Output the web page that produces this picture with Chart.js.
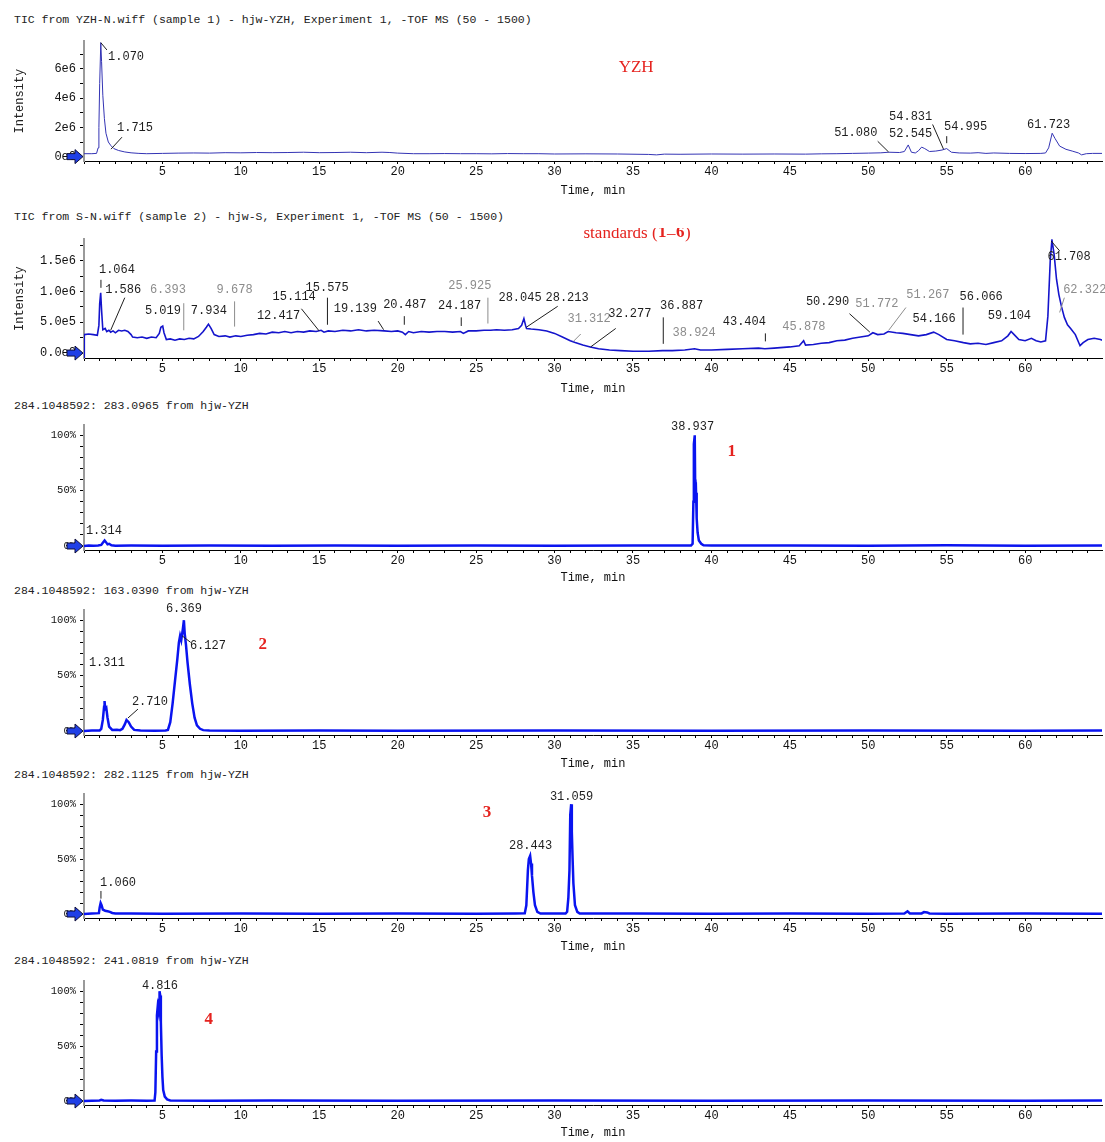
<!DOCTYPE html>
<html>
<head>
<meta charset="utf-8">
<script src="https://cdn.jsdelivr.net/npm/chart.js@4.4.1/dist/chart.umd.min.js"></script>
<style>
  body { margin: 0; background: #fff; width: 1105px; height: 1142px; position: relative; overflow: hidden; }
  .ttl { position: absolute; left: 14px; font: 11.5px "Liberation Mono", monospace; line-height: 14px; color: #222; white-space: pre; }
  canvas { position: absolute; left: 0; }
</style>
</head>
<body>
<div class="ttl" style="top:13px">TIC from YZH-N.wiff (sample 1) - hjw-YZH, Experiment 1, -TOF MS (50 - 1500)</div>
<div class="ttl" style="top:210px">TIC from S-N.wiff (sample 2) - hjw-S, Experiment 1, -TOF MS (50 - 1500)</div>
<div class="ttl" style="top:399px">284.1048592: 283.0965 from hjw-YZH</div>
<div class="ttl" style="top:584px">284.1048592: 163.0390 from hjw-YZH</div>
<div class="ttl" style="top:768px">284.1048592: 282.1125 from hjw-YZH</div>
<div class="ttl" style="top:954px">284.1048592: 241.0819 from hjw-YZH</div>

<canvas id="c1" width="1105" height="170" style="top:30px"></canvas>
<canvas id="c2" width="1105" height="170" style="top:228px"></canvas>
<canvas id="c3" width="1105" height="172" style="top:415px"></canvas>
<canvas id="c4" width="1105" height="173" style="top:600px"></canvas>
<canvas id="c5" width="1105" height="172" style="top:784px"></canvas>
<canvas id="c6" width="1105" height="171" style="top:971px"></canvas>

<script>
// time (min), intensity (x1e6)
const yzhTic = [[0,0.2],[0.5,0.2],[0.8,0.22],[0.9,0.6],[0.95,2.0],[1.0,5.0],[1.07,7.8],[1.12,6.5],[1.2,4.2],[1.3,2.6],
  [1.4,1.6],[1.55,1.0],[1.715,0.75],[1.9,0.55],[2.2,0.42],[2.6,0.32],[3.0,0.26],[3.5,0.22],[4,0.2],[5,0.22],
  [6,0.24],[7,0.25],[8,0.24],[9,0.27],[10,0.26],[11,0.28],[12,0.27],[13,0.28],[14,0.3],[15,0.27],[16,0.28],
  [17,0.3],[18,0.27],[19,0.3],[19.5,0.28],[20,0.24],[21,0.2],[22,0.2],[23,0.21],[24,0.2],[25,0.2],[26,0.19],
  [27,0.21],[28,0.2],[29,0.2],[30,0.18],[32,0.19],[34,0.18],[36,0.15],[36.5,0.12],[37,0.17],[38,0.16],[40,0.18],
  [42,0.17],[44,0.18],[46,0.17],[47,0.19],[48,0.2],[49,0.22],[50,0.24],[50.8,0.26],[51.3,0.3],[52,0.28],
  [52.3,0.35],[52.545,0.8],[52.75,0.3],[53.0,0.25],[53.2,0.4],[53.4,0.65],[53.6,0.55],[53.9,0.35],[54.3,0.38],
  [54.7,0.45],[54.995,0.55],[55.3,0.3],[55.8,0.25],[56.5,0.24],[57,0.27],[57.5,0.22],[58,0.25],[59,0.22],
  [60,0.21],[61,0.22],[61.3,0.25],[61.5,0.6],[61.723,1.6],[61.9,1.25],[62.2,0.72],[62.6,0.5],[63.0,0.38],
  [63.4,0.25],[63.6,0.12],[63.9,0.2],[64.3,0.22],[64.9,0.22]];

// time (min), intensity (x1e6)
const stdTic = [[0,-0.08],[0.02,0.3],[0.3,0.31],[0.6,0.3],[0.85,0.29],[0.95,0.45],[1.0,0.8],[1.064,0.98],[1.12,0.7],
  [1.2,0.38],[1.35,0.4],[1.45,0.35],[1.586,0.37],[1.7,0.34],[1.85,0.36],[2.0,0.33],[2.2,0.37],[2.4,0.36],[2.6,0.37],
  [2.8,0.35],[3.0,0.3],[3.1,0.26],[3.4,0.25],[3.7,0.26],[4.0,0.24],[4.3,0.26],[4.6,0.25],[4.8,0.32],[4.9,0.42],
  [5.019,0.44],[5.1,0.33],[5.25,0.22],[5.5,0.23],[5.8,0.21],[6.1,0.23],[6.393,0.22],[6.7,0.24],[7.0,0.23],
  [7.3,0.27],[7.6,0.35],[7.8,0.42],[7.934,0.47],[8.1,0.4],[8.3,0.3],[8.6,0.27],[9.0,0.28],[9.3,0.26],[9.678,0.28],
  [10.0,0.27],[10.4,0.29],[10.8,0.3],[11.2,0.32],[11.6,0.31],[12.0,0.34],[12.417,0.33],[12.8,0.35],[13.2,0.33],
  [13.6,0.35],[14.0,0.34],[14.4,0.36],[14.8,0.35],[15.114,0.37],[15.3,0.34],[15.575,0.36],[16.0,0.35],[16.5,0.37],
  [17.0,0.36],[17.5,0.38],[18.0,0.36],[18.5,0.37],[19.139,0.36],[19.6,0.35],[20.0,0.36],[20.3,0.34],[20.487,0.3],
  [20.7,0.35],[21.0,0.33],[21.5,0.35],[22.0,0.34],[22.5,0.35],[23.0,0.35],[23.5,0.34],[24.0,0.35],[24.187,0.32],
  [24.5,0.36],[25.0,0.36],[25.5,0.37],[25.925,0.37],[26.3,0.38],[26.8,0.37],[27.3,0.38],[27.7,0.4],[27.9,0.45],
  [28.045,0.56],[28.15,0.45],[28.213,0.4],[28.5,0.39],[29.0,0.38],[29.5,0.36],[30.0,0.32],[30.5,0.26],[31.0,0.2],
  [31.312,0.17],[31.8,0.13],[32.277,0.1],[32.8,0.07],[33.5,0.05],[34.2,0.04],[35.0,0.03],[36.0,0.03],[36.887,0.04],
  [37.5,0.04],[38.3,0.05],[38.924,0.07],[39.3,0.05],[40.0,0.05],[41.0,0.06],[42.0,0.07],[43.0,0.08],[43.404,0.07],
  [44.0,0.08],[45.0,0.1],[45.6,0.12],[45.878,0.2],[46.0,0.13],[46.5,0.14],[47.0,0.16],[47.5,0.17],[48.0,0.2],
  [48.5,0.21],[49.0,0.24],[49.5,0.26],[50.0,0.28],[50.29,0.33],[50.6,0.3],[51.0,0.31],[51.267,0.35],[51.772,0.33],
  [52.2,0.32],[52.7,0.3],[53.2,0.28],[53.7,0.3],[54.166,0.34],[54.5,0.3],[55.0,0.22],[55.5,0.2],[56.066,0.17],
  [56.5,0.15],[57.0,0.16],[57.5,0.14],[58.0,0.17],[58.5,0.2],[58.9,0.28],[59.104,0.35],[59.3,0.3],[59.6,0.22],
  [60.0,0.2],[60.4,0.24],[60.7,0.2],[61.0,0.18],[61.3,0.2],[61.45,0.6],[61.6,1.5],[61.708,1.84],[61.85,1.6],
  [62.0,1.2],[62.15,0.95],[62.322,0.75],[62.5,0.58],[62.7,0.46],[62.9,0.4],[63.2,0.3],[63.5,0.12],[63.7,0.17],
  [64.0,0.22],[64.4,0.24],[64.8,0.22],[64.9,0.21]];

// extracted ion chromatograms, time (min), relative intensity (%)
const xic283 = [[0,0],[0.3,0.4],[0.6,0.2],[0.9,0.5],[1.1,1],[1.2,3],[1.314,5],[1.4,3.5],[1.5,1.5],[1.6,2],[1.75,0.6],
  [2.0,0.3],[3,0.5],[5,0.3],[8,0.5],[12,0.3],[16,0.5],[20,0.3],[25,0.5],[30,0.3],[35,0.5],[38.0,0.4],[38.7,0.5],
  [38.8,2],[38.85,40],[38.88,92],[38.937,100],[38.96,60],[38.98,45],[39.02,48],[39.06,25],[39.12,12],[39.2,5],
  [39.35,2],[39.5,0.6],[40,0.4],[45,0.5],[50,0.3],[55,0.6],[60,0.3],[64.9,0.5]];
const xic163 = [[0,0],[0.5,0.4],[1.0,0.5],[1.1,2],[1.2,10],[1.28,22],[1.311,27],[1.35,20],[1.42,21],[1.5,12],[1.6,4],
  [1.8,1],[2.1,1.2],[2.3,0.8],[2.45,2],[2.6,6],[2.71,10],[2.85,8],[3.0,4],[3.2,1],[3.6,0.4],[4.5,0.3],[5.2,0.4],
  [5.35,1],[5.5,8],[5.65,25],[5.8,45],[5.95,65],[6.05,80],[6.127,86],[6.2,82],[6.3,92],[6.369,100],[6.42,88],
  [6.5,78],[6.6,62],[6.75,42],[6.9,25],[7.05,12],[7.2,5],[7.4,2],[7.6,0.8],[8,0.5],[10,0.3],[15,0.5],[20,0.3],
  [30,0.4],[40,0.3],[50,0.4],[60,0.3],[64.9,0.4]];
const xic282 = [[0,0],[0.5,0.4],[0.95,0.8],[1.0,6],[1.06,10],[1.12,8],[1.2,4],[1.35,3],[1.5,2.5],[1.65,2],[1.8,1],
  [2.0,0.6],[3,0.4],[5,0.3],[10,0.5],[15,0.3],[20,0.4],[25,0.3],[27.5,0.4],[28.1,0.6],[28.2,8],[28.3,40],[28.36,50],
  [28.443,53],[28.5,46],[28.56,35],[28.65,20],[28.75,8],[28.9,2],[29.1,0.5],[30.7,0.4],[30.8,2],[30.88,15],
  [30.95,40],[31.0,90],[31.059,100],[31.1,75],[31.15,50],[31.2,28],[31.3,8],[31.45,2],[31.6,0.5],[35,0.4],[40,0.3],
  [45,0.5],[50,0.3],[52.3,0.5],[52.5,2.5],[52.65,0.5],[53.4,0.6],[53.55,1.8],[53.75,1.5],[53.9,0.5],[55,0.3],
  [60,0.4],[64.9,0.3]];
const xic241 = [[0,0],[0.5,0.3],[1.0,0.5],[1.1,1.2],[1.25,0.5],[2,0.3],[3,0.4],[4,0.3],[4.5,0.4],[4.55,8],[4.6,45],
  [4.65,78],[4.7,86],[4.75,82],[4.79,92],[4.816,100],[4.86,96],[4.9,72],[4.95,42],[5.0,22],[5.05,10],[5.15,4],
  [5.3,1.5],[5.5,0.5],[8,0.3],[12,0.5],[20,0.3],[30,0.4],[40,0.3],[50,0.4],[60,0.3],[64.9,0.4]];

// peak labels: text, time, intensity, grey?, leader [t1,v1,t2,v2]
const yzhLabels = [
  ['1.070', 2.68, 6.8, 0, [1.07, 7.8, 1.46, 7.3]],
  ['1.715', 3.25, 1.94, 0, [2.42, 1.33, 1.72, 0.51]],
  ['51.080', 49.2, 1.6, 0, [50.6, 1.05, 51.3, 0.31]],
  ['52.545', 52.7, 1.53, 0, null],
  ['54.831', 52.7, 2.75, 0, [54.1, 2.2, 54.8, 0.5]],
  ['54.995', 56.2, 2.07, 0, [55.0, 1.4, 55.0, 0.92]],
  ['61.723', 61.5, 2.2, 0, null]
];
const stdLabels = [
  ['1.064', 2.1, 1.35, 0, [1.08, 1.19, 1.08, 1.06]],
  ['1.586', 2.5, 1.03, 0, [2.6, 0.9, 1.7, 0.37]],
  ['6.393', 5.35, 1.03, 1, [6.36, 0.81, 6.36, 0.37]],
  ['5.019', 5.03, 0.68, 0, null],
  ['7.934', 7.96, 0.69, 0, null],
  ['9.678', 9.6, 1.03, 1, [9.6, 0.84, 9.6, 0.43]],
  ['15.114', 13.4, 0.92, 0, [13.86, 0.72, 14.99, 0.36]],
  ['12.417', 12.4, 0.6, 0, null],
  ['15.575', 15.5, 1.06, 0, [15.52, 0.9, 15.52, 0.46]],
  ['19.139', 17.3, 0.72, 0, [18.75, 0.52, 19.1, 0.38]],
  ['20.487', 20.45, 0.79, 0, [20.42, 0.6, 20.42, 0.46]],
  ['24.187', 23.95, 0.77, 0, [24.05, 0.58, 24.05, 0.44]],
  ['25.925', 24.6, 1.09, 1, [25.75, 0.9, 25.75, 0.48]],
  ['28.045', 27.8, 0.9, 0, null],
  ['28.213', 30.8, 0.9, 0, [30.2, 0.76, 28.2, 0.42]],
  ['31.312', 32.2, 0.56, 1, [31.67, 0.31, 31.2, 0.19]],
  ['32.277', 34.8, 0.63, 0, [33.9, 0.4, 32.3, 0.1]],
  ['36.887', 38.1, 0.77, 0, [36.93, 0.58, 36.93, 0.15]],
  ['38.924', 38.9, 0.33, 1, null],
  ['43.404', 42.1, 0.5, 0, [43.44, 0.32, 43.44, 0.19]],
  ['45.878', 45.9, 0.42, 1, null],
  ['50.290', 47.4, 0.84, 0, [48.8, 0.64, 50.1, 0.34]],
  ['51.772', 50.55, 0.8, 1, null],
  ['51.267', 53.8, 0.95, 1, [52.4, 0.74, 51.3, 0.37]],
  ['54.166', 54.2, 0.56, 0, null],
  ['56.066', 57.2, 0.91, 0, [56.04, 0.74, 56.04, 0.3]],
  ['59.104', 59.0, 0.6, 0, null],
  ['61.708', 62.8, 1.56, 0, [61.66, 1.82, 62.2, 1.66]],
  ['62.322', 63.8, 1.02, 1, [62.5, 0.9, 62.2, 0.66]]
];
const lab283 = [['1.314', 1.27, 14, 0, null], ['38.937', 38.8, 108, 0, null]];
const lab163 = [
  ['1.311', 1.46, 62, 0, null],
  ['2.710', 4.2, 26, 0, [3.44, 19.8, 2.8, 11.7]],
  ['6.369', 6.37, 110, 0, null],
  ['6.127', 7.9, 77, 0, [6.25, 86, 6.8, 80]]
];
const lab282 = [
  ['1.060', 2.17, 28, 0, [1.08, 21, 1.08, 14]],
  ['28.443', 28.47, 62, 0, null],
  ['31.059', 31.08, 107, 0, null]
];
const lab241 = [['4.816', 4.84, 105, 0, null]];

// red compound tags: parts [text, bold], time, intensity
const redYzh = [[['YZH', 0]], 35.2, 6.1];
const redStd = [[['standards (', 0], ['1', 1], ['\u2013', 0], ['6', 1], [')', 0]], 35.2, 1.95];
const red1 = [[['1', 1]], 41.3, 85];
const red2 = [[['2', 1]], 11.4, 78];
const red3 = [[['3', 1]], 25.7, 92];
const red4 = [[['4', 1]], 7.96, 74];

const MONO = '"Liberation Mono", "DejaVu Sans Mono", monospace';

function peakPlugin(labels, red) {
  return {
    id: 'peaks',
    afterDraw(chart) {
      const ctx = chart.ctx, xs = chart.scales.x, ys = chart.scales.y;
      ctx.save();
      // arrow marker at zero
      const ax = chart.chartArea.left, ay = ys.getPixelForValue(0);
      ctx.beginPath();
      ctx.moveTo(ax - 17, ay - 3); ctx.lineTo(ax - 9, ay - 3); ctx.lineTo(ax - 9, ay - 7);
      ctx.lineTo(ax - 1, ay); ctx.lineTo(ax - 9, ay + 7); ctx.lineTo(ax - 9, ay + 3);
      ctx.lineTo(ax - 17, ay + 3); ctx.closePath();
      ctx.fillStyle = '#1f3fe6'; ctx.fill();
      ctx.strokeStyle = '#10103a'; ctx.lineWidth = 1; ctx.stroke();

      ctx.font = '12px ' + MONO;
      ctx.textAlign = 'center'; ctx.textBaseline = 'middle';
      labels.forEach(l => {
        const col = l[3] ? '#8c8c8c' : '#1e1e1e';
        ctx.fillStyle = col;
        ctx.fillText(l[0], xs.getPixelForValue(l[1]), ys.getPixelForValue(l[2]));
        if (l[4]) {
          ctx.strokeStyle = col; ctx.lineWidth = 1;
          ctx.beginPath();
          ctx.moveTo(xs.getPixelForValue(l[4][0]), ys.getPixelForValue(l[4][1]));
          ctx.lineTo(xs.getPixelForValue(l[4][2]), ys.getPixelForValue(l[4][3]));
          ctx.stroke();
        }
      });

      // red tag
      const parts = red[0];
      const fontOf = b => (b ? 'bold ' : '') + '17px "Liberation Serif", "DejaVu Serif", serif';
      let w = 0;
      parts.forEach(p => { ctx.font = fontOf(p[1]); w += ctx.measureText(p[0]).width; });
      let x = xs.getPixelForValue(red[1]) - w / 2;
      const y = ys.getPixelForValue(red[2]);
      ctx.textAlign = 'left'; ctx.fillStyle = '#e5231f';
      parts.forEach(p => { ctx.font = fontOf(p[1]); ctx.fillText(p[0], x, y); x += ctx.measureText(p[0]).width + 0.5; });
      ctx.restore();
    }
  };
}

function drawPanel(id, points, opt) {
  const ctx = document.getElementById(id).getContext('2d');
  return new Chart(ctx, {
    type: 'line',
    data: {
      datasets: [{
        data: points.map(p => ({ x: p[0], y: p[1] })),
        borderColor: opt.color,
        borderWidth: opt.width,
        pointRadius: 0,
        tension: 0,
        fill: false
      }]
    },
    options: {
      responsive: false,
      animation: false,
      layout: { padding: { top: 10, right: 3, left: 0, bottom: 0 } },
      plugins: { legend: { display: false }, tooltip: { enabled: false } },
      scales: {
        x: {
          type: 'linear', min: 0, max: 64.9,
          ticks: {
            stepSize: 1, autoSkip: false, maxRotation: 0, includeBounds: false, padding: 1,
            color: '#111', font: { family: MONO, size: 12 },
            callback: v => (v % 5 === 0 && v > 0) ? String(v) : ''
          },
          grid: { drawOnChartArea: false, drawTicks: true, tickLength: 3, color: '#000' },
          border: { display: true, color: '#000', width: 1 },
          title: { display: true, text: 'Time, min', color: '#111', font: { family: MONO, size: 12 }, padding: { top: 0, bottom: 2 } },
          afterFit: s => { s.height = opt.xh; }
        },
        y: {
          type: 'linear', min: opt.ymin, max: opt.ymax,
          ticks: {
            stepSize: opt.step, includeBounds: false, autoSkip: false, padding: 4,
            color: '#111', font: { family: MONO, size: opt.tickSize },
            callback: opt.fmt
          },
          grid: { drawOnChartArea: false, drawTicks: true, tickLength: 4, color: '#000' },
          border: { display: true, color: '#9a9a9a', width: 2 },
          title: { display: opt.intensity, text: 'Intensity', color: '#222', font: { family: MONO, size: 12 }, padding: { top: 13, bottom: 0 } },
          afterFit: s => { s.width = 84; }
        }
      }
    },
    plugins: [peakPlugin(opt.labels, opt.red)]
  });
}

const fmtE6 = v => ({ 0: '0e0', 2: '2e6', 4: '4e6', 6: '6e6' })[Math.round(v * 100) / 100] || '';
const fmtStd = v => ({ 0: '0.0e0', 0.5: '5.0e5', 1: '1.0e6', 1.5: '1.5e6' })[Math.round(v * 100) / 100] || '';
const fmtPct = v => { const r = Math.round(v * 100) / 100; return r === 0 ? '0%' : r === 50 ? '50%' : r === 100 ? '100%' : ''; };

drawPanel('c1', yzhTic, { color: '#3434b4', width: 1, xh: 39, ymin: -0.3, ymax: 7.9, step: 1, tickSize: 12, fmt: fmtE6, intensity: true, labels: yzhLabels, red: redYzh });
drawPanel('c2', stdTic, { color: '#1414cc', width: 1.6, xh: 40, ymin: -0.08, ymax: 1.85, step: 0.25, tickSize: 12, fmt: fmtStd, intensity: true, labels: stdLabels, red: redStd });
drawPanel('c3', xic283, { color: '#0a14f0', width: 2.5, xh: 37, ymin: -3.6, ymax: 109, step: 10, tickSize: 10.5, fmt: fmtPct, intensity: false, labels: lab283, red: red1 });
drawPanel('c4', xic163, { color: '#0a14f0', width: 2.5, xh: 38, ymin: -3.6, ymax: 109, step: 10, tickSize: 10.5, fmt: fmtPct, intensity: false, labels: lab163, red: red2 });
drawPanel('c5', xic282, { color: '#0a14f0', width: 2.5, xh: 38, ymin: -3.6, ymax: 109, step: 10, tickSize: 10.5, fmt: fmtPct, intensity: false, labels: lab282, red: red3 });
drawPanel('c6', xic241, { color: '#0a14f0', width: 2.5, xh: 37, ymin: -3.6, ymax: 109, step: 10, tickSize: 10.5, fmt: fmtPct, intensity: false, labels: lab241, red: red4 });
</script>
</body>
</html>
